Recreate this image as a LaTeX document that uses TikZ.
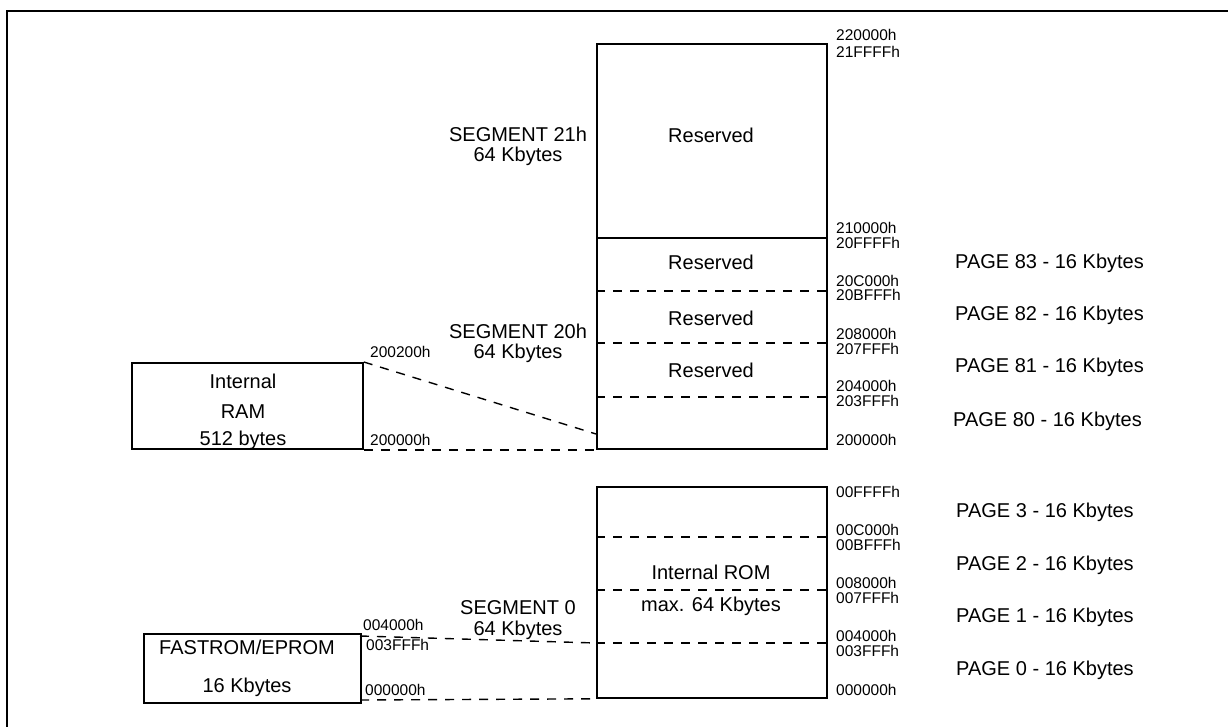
\documentclass[tikz,border=0pt]{standalone}
\usepackage{fontspec}
\setmainfont{Liberation Sans}
\begin{document}
\begin{tikzpicture}[x=1pt,y=-1pt,
  box/.style={draw,line width=1.8pt,inner sep=0pt,anchor=north west},
  lbl/.style={inner sep=0pt,font=\fontsize{20}{23}\selectfont},
  addr/.style={inner sep=0pt,anchor=west,font=\fontsize{15.5}{18}\selectfont},
  dsh/.style={line width=1.4pt,dash pattern=on 9pt off 8pt}]
\useasboundingbox (0,0) rectangle (1228,727);
\draw[line width=2pt] (7,11) rectangle (1245,745);
% main boxes
\node[box,minimum width=230pt,minimum height=194pt] (seg21) at (596,43) {};
\node[box,minimum width=230pt,minimum height=211pt] (seg20) at (596,237) {};
\node[box,minimum width=230pt,minimum height=211pt] (seg0) at (596,486) {};
\node[box,minimum width=231pt,minimum height=86pt] (ram) at (131,362) {};
\node[box,minimum width=217pt,minimum height=69pt] (fast) at (143,633) {};
% dashed lines inside
\foreach \yy in {291,343,397}{\draw[dsh] (seg20.west |- 0,\yy) -- (seg20.east |- 0,\yy);}
\foreach \yy in {537,590,643}{\draw[dsh] (seg0.west |- 0,\yy) -- (seg0.east |- 0,\yy);}
% texts in boxes
\node[lbl] (r1) at (711,135) {Reserved};
\node[lbl] (r2) at (711,262) {Reserved};
\node[lbl] (r3) at (711,318) {Reserved};
\node[lbl] (r4) at (711,370) {Reserved};
\node[lbl] (rom1) at (711,572) {Internal ROM};
\node[lbl] (rom2) at (711,606) {max. 64 Kbytes};
\node[lbl] (ram1) at (243,381) {Internal};
\node[lbl] (ram2) at (243,412) {RAM};
\node[lbl] (ram3) at (243,440) {512 bytes};
\node[lbl] (f1t) at (247,647) {FASTROM/EPROM};
\node[lbl] (f2t) at (247,687) {16 Kbytes};
% segment labels
\node[lbl] (s21a) at (518,134) {SEGMENT 21h};
\node[lbl] (s21b) at (518,156) {64 Kbytes};
\node[lbl] (s20a) at (518,331) {SEGMENT 20h};
\node[lbl] (s20b) at (518,353) {64 Kbytes};
\node[lbl] (s0a) at (518,608) {SEGMENT 0};
\node[lbl] (s0b) at (518,630) {64 Kbytes};
% page labels
\node[lbl,anchor=west] (p83) at (955,263) {PAGE 83 - 16 Kbytes};
\node[lbl,anchor=west] (p82) at (955,315) {PAGE 82 - 16 Kbytes};
\node[lbl,anchor=west] (p81) at (955,367) {PAGE 81 - 16 Kbytes};
\node[lbl,anchor=west] (p80) at (953,421) {PAGE 80 - 16 Kbytes};
\node[lbl,anchor=west] (p3) at (956,512) {PAGE 3 - 16 Kbytes};
\node[lbl,anchor=west] (p2) at (956,565) {PAGE 2 - 16 Kbytes};
\node[lbl,anchor=west] (p1) at (956,617) {PAGE 1 - 16 Kbytes};
\node[lbl,anchor=west] (p0) at (956,670) {PAGE 0 - 16 Kbytes};
% right addresses
\node[addr] (a1) at (836,35) {220000h};
\node[addr] (a2) at (836,52) {21FFFFh};
\node[addr] (a3) at (836,228) {210000h};
\node[addr] (a4) at (836,243) {20FFFFh};
\node[addr] (a5) at (836,281) {20C000h};
\node[addr] (a6) at (836,295) {20BFFFh};
\node[addr] (a7) at (836,334) {208000h};
\node[addr] (a8) at (836,349) {207FFFh};
\node[addr] (a9) at (836,386) {204000h};
\node[addr] (a10) at (836,401) {203FFFh};
\node[addr] (a11) at (836,440) {200000h};
\node[addr] (a12) at (836,492) {00FFFFh};
\node[addr] (a13) at (836,530) {00C000h};
\node[addr] (a14) at (836,545) {00BFFFh};
\node[addr] (a15) at (836,583) {008000h};
\node[addr] (a16) at (836,598) {007FFFh};
\node[addr] (a17) at (836,636) {004000h};
\node[addr] (a18) at (836,651) {003FFFh};
\node[addr] (a19) at (836,690) {000000h};
% left addresses
\node[addr] (b1) at (370,352) {200200h};
\node[addr] (b2) at (370,440) {200000h};
\node[addr] (b3) at (363,625) {004000h};
\node[addr] (b4) at (366,645) {003FFFh};
\node[addr] (b5) at (365,690) {000000h};
% connectors
\coordinate (c1) at (596,434);
\coordinate (c2) at (360,636);
\coordinate (c3) at (596,643);
\coordinate (c4) at (360,700);
\draw[dsh] (ram.north east) -- (c1);
\draw[dsh] (ram.south east) -- (seg20.south west);
\draw[dsh] (c2) -- (c3);
\draw[dsh] (c4) -- (seg0.south west);
\end{tikzpicture}
\end{document}
